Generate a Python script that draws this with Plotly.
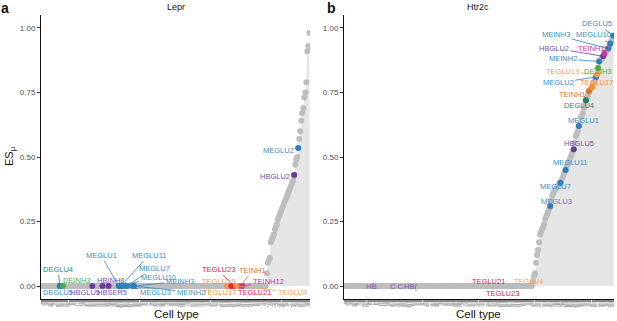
import plotly.graph_objects as go

# ---------------- data ----------------
cell_types = """ABC ACBG ACMB ACNT1 ACNT2 ACOB ACTE1 ACTE2 CBGRC CBINH1 CBINH2 CBNBL1 CBNBL2 CBPC CHOR
COP1 COP2 CR DECHO1 DEGLU1 DEGLU2 DEGLU3 DEGLU4 DEGLU5 DEINH1 DEINH2 DEINH3 DEINH4 DEINH5 DEINH6
DEINH7 DEINH8 DETPH DGGRC1 DGGRC2 DGNBL1 DGNBL2 ENMFB ENT1 ENT2 ENT3 ENT4 ENT5 ENT6 ENT7 ENT8 ENT9
ENTG1 ENTG2 ENTG3 ENTG4 ENTG5 ENTG6 ENTG7 EPEN EPMB EPSC HBADR HBCHO1 HBCHO2 HBCHO3 HBCHO4
HBGLU1 HBGLU2 HBGLU3 HBGLU4 HBGLU5 HBGLU6 HBGLU7 HBGLU8 HBGLU9 HBGLU10 HBINH1 HBINH2 HBINH3
HBINH4 HBINH5 HBINH6 HBINH7 HBINH8 HBINH9 HBNOR HBSER1 HBSER2 HBSER3 HBSER4 HBSER5 HYPEN
HYPEP1 HYPEP2 HYPEP3 HYPEP4 HYPEP5 HYPEP6 HYPEP7 HYPEP8 MBDOP1 MBDOP2 MEGLU1 MEGLU2 MEGLU3
MEGLU4 MEGLU5 MEGLU6 MEGLU7 MEGLU8 MEGLU9 MEGLU10 MEGLU11 MEGLU12 MEGLU13 MEGLU14 MEINH1 MEINH2
MEINH3 MEINH4 MEINH5 MEINH6 MEINH7 MEINH8 MEINH9 MEINH10 MEINH11 MEINH12 MEINH13 MEINH14 MFOL1
MFOL2 MGL1 MGL2 MGL3 MOL1 MOL2 MOL3 MSN1 MSN2 MSN3 MSN4 MSN5 MSN6 NFOL1 NFOL2 OBDOP1 OBDOP2
OBINH1 OBINH2 OBINH3 OBINH4 OBINH5 OBNBL1 OBNBL2 OBNBL3 OBNBL4 OBNBL5 OEC OPC PER1 PER2 PER3
PSNF1 PSNF2 PSNF3 PSNP1 PSNP2 PSNP3 PSNP4 PSNP5 PSNP6 PSPEP1 PSPEP2 PSPEP3 PSPEP4 PSPEP5 PSPEP6
PSPEP7 PSPEP8 PVM1 PVM2 RGDG RGSZ SATG1 SATG2 SCGLU1 SCGLU2 SCGLU3 SCGLU4 SCGLU5 SCGLU6 SCGLU7
SCGLU8 SCGLU9 SCGLU10 SCHW SCINH1 SCINH2 SCINH3 SCINH4 SCINH5 SCINH6 SCINH7 SCINH8 SCINH9 SCINH10
SCINH11 SEPNBL SYCHO1 SYCHO2 SYNOR1 SYNOR2 SYNOR3 SYNOR4 SYNOR5 SZNBL TECHO TEGLU1 TEGLU2 TEGLU3
TEGLU4 TEGLU5 TEGLU6 TEGLU7 TEGLU8 TEGLU9 TEGLU10 TEGLU11 TEGLU12 TEGLU13 TEGLU14 TEGLU15 TEGLU16
TEGLU17 TEGLU18 TEGLU19 TEGLU20 TEGLU21 TEGLU22 TEGLU23 TEGLU24 TEINH1 TEINH2 TEINH3 TEINH4 TEINH5
TEINH6 TEINH7 TEINH8 TEINH9 TEINH10 TEINH11 TEINH12 TEINH13 TEINH14 TEINH15 TEINH16 TEINH17 TEINH18
TEINH19 TEINH20 TEINH21 VECA VECC VECV VLMC1 VLMC2 VSMCA""".split()

# Lepr: cell types with non-zero ES (all others are 0)
lepr_cells = ["ABC", "CHOR", "CR", "DECHO1", "DEINH1", "DEINH5", "DEINH6", "DETPH", "DGGRC1",
              "ENT1", "ENT2", "ENT3", "ENT5", "ENTG1", "EPEN", "HBCHO2", "HBGLU2", "HBGLU8",
              "HBINH3", "HBSER2", "HYPEP2", "HYPEP5", "MEGLU2", "MEGLU12", "MEGLU5", "MEGLU9",
              "MEINH10", "MEINH1", "MGL1", "MOL2", "MSN3", "OBNBL2", "PER1", "PSPEP3", "PVM1",
              "SCGLU4", "SCINH5", "SYNOR2", "TEGLU12", "TEGLU20", "TEGLU6", "TEGLU8", "TEINH11"]
lepr_es = [0.24, 0.11, 0.05, 0.33, 0.29, 0.41, 0.19, 0.36, 0.09,
           0.17, 0.22, 0.27, 0.10, 0.18, 0.20, 0.37, 0.43, 0.30,
           0.34, 0.26, 0.98, 0.93, 0.535, 0.39, 0.47, 0.32,
           0.28, 0.23, 0.50, 0.38, 0.35, 0.31, 0.91, 0.79, 0.75,
           0.40, 0.49, 0.57, 0.60, 0.64, 0.67, 0.69, 0.73]

# Htr2c: cell types with non-zero ES (all others are 0)
htr2c_cells = ["MEGLU3", "MEGLU7", "MEGLU11", "HBGLU5", "MEGLU1", "DEGLU4", "TEINH1", "TEGLU17",
               "MEGLU2", "TEGLU19", "DEINH3", "MEINH2", "HBGLU2", "TEINH12", "MEINH3", "MEGLU10",
               "DEGLU5",
               "DEGLU1", "DEGLU2", "DEGLU3", "DEINH1", "DEINH2", "DEINH4", "DEINH5", "DEINH6",
               "DEINH7", "DEINH8", "HBCHO1", "HBCHO3", "HBGLU1", "HBGLU3", "HBGLU4", "HBGLU6",
               "HBGLU7", "HBGLU10", "HBINH2", "HBINH5", "HBNOR", "HYPEN", "HYPEP1", "HYPEP2",
               "HYPEP3", "HYPEP4", "HYPEP5", "HYPEP6", "HYPEP7", "HYPEP8", "MBDOP1", "MBDOP2",
               "MEGLU4", "MEGLU5", "MEGLU6", "MEGLU8", "MEGLU9", "MEGLU12", "MEGLU13", "MEGLU14",
               "MEINH1", "MEINH4", "MEINH5", "MEINH6", "MEINH7", "MEINH9", "MSN1", "MSN4",
               "SCGLU2", "SCINH3", "TEGLU1", "TEGLU20", "TEGLU5", "TEGLU6", "TEGLU7", "TEGLU8",
               "TEGLU9", "TEINH2", "TEINH3", "TEINH4", "TEINH10", "TEINH11", "TEINH14"]
htr2c_es = [0.31, 0.40, 0.45, 0.53, 0.62, 0.72, 0.755, 0.77,
            0.81, 0.82, 0.845, 0.87, 0.89, 0.90, 0.92, 0.94,
            0.97,
            0.02, 0.04, 0.05, 0.09, 0.12, 0.14, 0.17, 0.20,
            0.21, 0.22, 0.23, 0.24, 0.26, 0.27, 0.28, 0.29,
            0.30, 0.33, 0.35, 0.36, 0.37, 0.375, 0.38, 0.385,
            0.39, 0.395, 0.41, 0.42, 0.43, 0.44, 0.46, 0.47,
            0.48, 0.49, 0.50, 0.51, 0.52, 0.555, 0.58, 0.59,
            0.60, 0.63, 0.655, 0.66, 0.67, 0.69, 0.70, 0.73,
            0.74, 0.76, 0.765, 0.78, 0.79, 0.80, 0.875, 0.88,
            0.885, 0.905, 0.91, 0.915, 0.93, 0.95, 0.96]

highlight_cells = ["DEGLU4", "DEGLU5", "DEINH3", "HBGLU2", "HBGLU5", "HBINH8", "HBSER5",
                   "MEGLU1", "MEGLU2", "MEGLU3", "MEGLU7", "MEGLU10", "MEGLU11", "MEINH2",
                   "MEINH3", "TEGLU4", "TEGLU17", "TEGLU19", "TEGLU21", "TEGLU23", "TEINH1",
                   "TEINH12"]

# ---------------- styles ----------------
BLUE = "#2f7fbd"
PURPLE = "#6b3d9a"
cell_colors = {
    "DEGLU4": "#1f7d69", "DEGLU5": BLUE, "DEINH3": "#4aae48",
    "HBGLU2": PURPLE, "HBGLU5": PURPLE, "HBINH8": PURPLE, "HBSER5": PURPLE,
    "MEGLU1": BLUE, "MEGLU2": BLUE, "MEGLU3": BLUE, "MEGLU7": BLUE, "MEGLU10": BLUE,
    "MEGLU11": BLUE, "MEINH2": BLUE, "MEINH3": BLUE,
    "TEGLU4": "#f7a94f", "TEGLU17": "#f58f32", "TEGLU19": "#f7a04a",
    "TEGLU21": "#e2263c", "TEGLU23": "#e2263c", "TEINH1": "#da7530", "TEINH12": "#c2389c",
}
label_text_colors = dict(cell_colors)
label_text_colors.update({"DEGLU5": "#3d8cc4", "MEGLU1": "#3d8cc4", "MEGLU2": "#3d8cc4",
                          "MEGLU3": "#3d8cc4", "MEGLU7": "#3d8cc4", "MEGLU10": "#3d8cc4",
                          "MEGLU11": "#3d8cc4", "MEINH2": "#3d8cc4", "MEINH3": "#3d8cc4",
                          "HBGLU2": "#7a4fab", "HBGLU5": "#7a4fab", "HBINH8": "#7a4fab",
                          "HBSER5": "#7a4fab", "DEGLU4": "#2a8a72"})

# label text placement (cell, x in rank units, y in ES units) -- layout only
lepr_label_pos = [
    ("DEGLU4", 17.2, 0.066), ("DEINH3", 35.9, 0.023), ("DEGLU5", 17.2, -0.023),
    ("HBGLU5", 43.8, -0.023), ("HBINH8", 69.4, 0.023), ("HBSER5", 70.4, -0.023),
    ("MEGLU1", 59.6, 0.12), ("MEGLU11", 106.9, 0.12), ("MEGLU7", 111.8, 0.07),
    ("MEGLU10", 115.8, 0.035), ("MEINH3", 137.4, 0.019), ("MEGLU3", 112.8, -0.023),
    ("MEINH2", 148.3, -0.023), ("TEGLU23", 174.9, 0.066), ("TEINH1", 209.4, 0.062),
    ("TEGLU19", 174.9, 0.019), ("TEINH12", 224.2, 0.019), ("TEGLU17", 175.9, -0.023),
    ("TEGLU21", 210.4, -0.023), ("TEGLU4", 247.9, -0.023), ("MEGLU2", 235.0, 0.527),
    ("HBGLU2", 231.1, 0.426),
]
htr2c_label_pos = [
    ("DEGLU5", 248.9, 1.016), ("MEINH3", 208.6, 0.973), ("MEGLU10", 245.0, 0.973),
    ("HBGLU2", 206.7, 0.922), ("TEINH12", 245.0, 0.922), ("MEINH2", 215.5, 0.880),
    ("TEGLU19", 215.5, 0.833), ("DEINH3", 249.9, 0.833), ("MEGLU2", 210.6, 0.787),
    ("TEGLU17", 248.0, 0.787), ("TEINH1", 224.4, 0.744), ("DEGLU4", 231.2, 0.698),
    ("MEGLU1", 235.2, 0.643), ("HBGLU5", 231.2, 0.554), ("MEGLU11", 222.4, 0.477),
    ("MEGLU7", 207.7, 0.384), ("MEGLU3", 209.6, 0.329), ("TEGLU21", 141.9, 0.019),
    ("TEGLU23", 155.6, -0.027), ("TEGLU4", 181.2, 0.019),
]
htr2c_hidden_text = [("HB.", 27.9, 0.0), ("C C", 52.5, 0.0), ("HB(", 66.2, 0.0)]

W, H = 617, 321
GREY = "#bdbdbd"
FILL = "#e5e5e5"
FONT = "Liberation Sans, Arial, Helvetica, sans-serif"


def ordered(nonzero_cells, nonzero_values):
    es = {c: 0.0 for c in cell_types}
    es.update(dict(zip(nonzero_cells, nonzero_values)))
    order = sorted(cell_types, key=lambda c: (es[c], c))
    return order, [es[c] for c in order]


fig = go.Figure()
annotations = []
panels = [
    ("x", "y", lepr_cells, lepr_es, lepr_label_pos, True),
    ("x2", "y2", htr2c_cells, htr2c_es, htr2c_label_pos, False),
]
orders = []
for xa, ya, cells, vals, label_pos, show_zero_hl in panels:
    order, values = ordered(cells, vals)
    orders.append(order)
    ranks = list(range(1, len(order) + 1))
    fig.add_trace(go.Scatter(x=ranks, y=values, xaxis=xa, yaxis=ya, mode="lines",
                             line=dict(width=0), fill="tozeroy", fillcolor=FILL,
                             hoverinfo="skip", showlegend=False))
    fig.add_trace(go.Scatter(x=ranks, y=values, xaxis=xa, yaxis=ya, mode="markers",
                             marker=dict(size=6, color=GREY), text=order,
                             showlegend=False))
    hx, hy, hc = [], [], []
    for r, c, v in zip(ranks, order, values):
        if c in highlight_cells and (show_zero_hl or v > 0):
            hx.append(r); hy.append(v); hc.append(cell_colors[c])
    fig.add_trace(go.Scatter(x=hx, y=hy, xaxis=xa, yaxis=ya, mode="markers",
                             marker=dict(size=6, color=hc), showlegend=False))
    pos = {c: (r, v) for r, c, v in zip(ranks, order, values)}
    for c, tx, ty in label_pos:
        px, py = pos[c]
        annotations.append(dict(
            x=px, y=py, xref=xa, yref=ya, axref=xa, ayref=ya, ax=tx, ay=ty,
            text=c, showarrow=True, arrowhead=0, arrowwidth=0.8, standoff=2,
            arrowcolor=cell_colors[c], font=dict(size=7.5, color=label_text_colors[c], family=FONT),
        ))

for t, tx, ty in htr2c_hidden_text:
    annotations.append(dict(x=tx, y=ty, xref="x2", yref="y2", text=t, showarrow=False,
                            font=dict(size=7.5, color="#7a4fab", family=FONT)))

# titles / panel letters / axis titles
def paper(px, py):
    return px / W, 1 - py / H

for txt, (px, py), size, extra in [
    ("Lepr", (176, 7), 9, {}), ("Htr2c", (478, 7), 9, {}),
    ("<b>a</b>", (5, 8), 14, {}), ("<b>b</b>", (331, 8), 14, {}),
    ("Cell type", (176, 314), 11.5, {}), ("Cell type", (478, 314), 11.5, {}),
    ("ES<sub>μ</sub>", (10, 157), 11, {"textangle": -90}),
]:
    x, y = paper(px, py)
    annotations.append(dict(x=x, y=y, xref="paper", yref="paper", text=txt, showarrow=False,
                            xanchor="center", yanchor="middle",
                            font=dict(size=size, color="#111111", family=FONT), **extra))

ydom = [(H - 299) / H, (H - 15) / H]
yax = dict(range=[-0.05, 1.05], domain=ydom, tickvals=[0, 0.25, 0.5, 0.75, 1.0],
           ticktext=["0.00", "0.25", "0.50", "0.75", "1.00"], ticks="outside", ticklen=3,
           tickwidth=1, tickcolor="#333333", showline=True, linecolor="#111111", linewidth=1.1,
           showgrid=False, zeroline=False, tickfont=dict(size=8, color="#4d4d4d", family=FONT))
def xax(dom, order):
    return dict(range=[0.4, len(order) + 0.6], domain=dom, tickvals=list(range(1, len(order) + 1)),
                ticktext=order, tickangle=-90, ticks="outside", ticklen=1.5, tickwidth=0.3,
                tickcolor="#888888", showline=True, linecolor="#111111", linewidth=1.1,
                showgrid=False, zeroline=False, automargin=False,
                tickfont=dict(size=1.2, color="#666666", family=FONT))

fig.update_layout(
    width=W, height=H, margin=dict(l=0, r=0, t=0, b=0, autoexpand=False),
    paper_bgcolor="white", plot_bgcolor="white", showlegend=False,
    xaxis=xax([41 / W, 310 / W], orders[0]),
    xaxis2=xax([344 / W, 614 / W], orders[1]),
    yaxis=dict(yax, anchor="x"),
    yaxis2=dict(yax, anchor="x2"),
    annotations=annotations,
)
fig.update_layout(xaxis=dict(anchor="y"), xaxis2=dict(anchor="y2"))

fig.write_html("out.html", config={"displayModeBar": False},
               post_script="document.body.style.margin='0px';document.body.style.overflow='hidden';")
